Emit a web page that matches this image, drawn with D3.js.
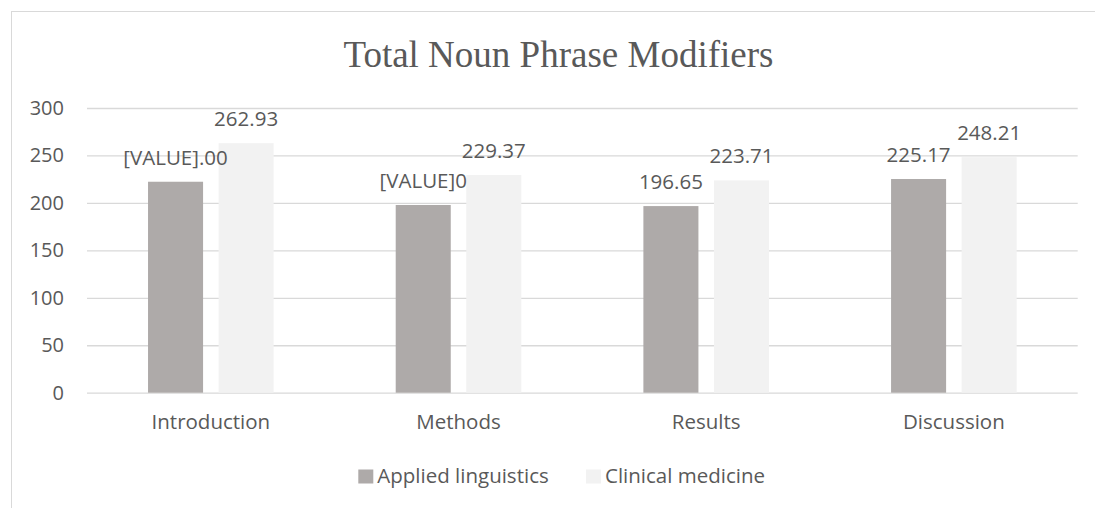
<!DOCTYPE html>
<html>
<head>
<meta charset="utf-8">
<script src="https://cdn.jsdelivr.net/npm/d3@7"></script>
<style>
  body { margin: 0; background: #ffffff; }
  svg { display: block; }
</style>
</head>
<body>
<svg width="1095" height="508"></svg>
<script>
const categories = ['Introduction', 'Methods', 'Results', 'Discussion'];
const seriesNames = ['Applied linguistics', 'Clinical medicine'];
const appliedValues = [222.3, 197.8, 196.65, 225.17];
const clinicalValues = [262.93, 229.37, 223.71, 248.21];
// labels as they appear in the source (two of them are broken field codes)
const appliedLabels = ['[VALUE].00', '[VALUE]0', '196.65', '225.17'];
const clinicalLabels = ['262.93', '229.37', '223.71', '248.21'];
const yTicks = [0, 50, 100, 150, 200, 250, 300];

const colors = ['#aeaaa9', '#f2f2f2'];
const textColor = '#595959';
const gridColor = '#d9d9d9';
const font = "'Open Sans', sans-serif";

const svg = d3.select('svg');

// outer chart border (runs off the right and bottom edge)
svg.append('rect')
    .attr('x', 11.5)
    .attr('y', 11.5)
    .attr('width', 1200)
    .attr('height', 600)
    .attr('fill', 'none')
    .attr('stroke', gridColor);

const plot = { left: 87, right: 1077.7, top: 108, bottom: 392.7 };

const yScale = d3.scaleLinear().domain([0, 300]).range([plot.bottom, plot.top]);
const xScale = d3.scaleBand().domain(categories).range([plot.left, plot.right]);
const xInner = d3.scaleBand().domain(seriesNames)
    .range([0, xScale.bandwidth()])
    .paddingInner(0.22)
    .paddingOuter(0.865);

// title
svg.append('text')
    .attr('x', 558.4)
    .attr('y', 66.7)
    .attr('text-anchor', 'middle')
    .style('font-family', "'Liberation Serif', 'Times New Roman', serif")
    .style('font-size', '37px')
    .attr('fill', textColor)
    .text('Total Noun Phrase Modifiers');

// grid lines + y labels
const yAxis = d3.axisLeft(yScale)
    .tickValues(yTicks)
    .tickSize(-(plot.right - plot.left))
    .tickPadding(23);

svg.append('g')
    .attr('id', 'y-axis')
    .attr('transform', `translate(${plot.left},0)`)
    .call(yAxis);

d3.select('#y-axis .domain').remove();
d3.selectAll('#y-axis line').attr('stroke', gridColor).attr('stroke-width', 1.3);
d3.selectAll('#y-axis text')
    .style('font-family', font)
    .style('font-size', '20px')
    .attr('fill', textColor);

// x labels
const xAxis = d3.axisBottom(xScale).tickSize(0).tickPadding(22);
svg.append('g')
    .attr('id', 'x-axis')
    .attr('transform', `translate(0,${plot.bottom})`)
    .call(xAxis);

d3.select('#x-axis .domain').remove();
d3.selectAll('#x-axis text')
    .style('font-family', font)
    .style('font-size', '20.5px')
    .attr('fill', textColor);

// bars
const series = [
    { name: seriesNames[0], values: appliedValues, labels: appliedLabels, color: colors[0] },
    { name: seriesNames[1], values: clinicalValues, labels: clinicalLabels, color: colors[1] }
];

series.forEach(s => {
    svg.append('g').selectAll('rect')
        .data(categories)
        .enter()
        .append('rect')
        .attr('x', (d) => xScale(d) + xInner(s.name))
        .attr('y', (d, i) => yScale(s.values[i]))
        .attr('width', xInner.bandwidth())
        .attr('height', (d, i) => yScale(0) - yScale(s.values[i]))
        .attr('fill', s.color);
});

// data labels go on top of all bars
series.forEach(s => {
    svg.append('g').selectAll('text')
        .data(categories)
        .enter()
        .append('text')
        .attr('x', (d) => xScale(d) + xInner(s.name) + xInner.bandwidth() / 2)
        .attr('y', (d, i) => yScale(s.values[i]) - 17)
        .attr('text-anchor', 'middle')
        .style('font-family', font)
        .style('font-size', '20.5px')
        .attr('fill', textColor)
        .text((d, i) => s.labels[i]);
});

// legend
const legendX = [358.3, 586];
const legend = svg.append('g').attr('id', 'legend');
series.forEach((s, i) => {
    legend.append('rect')
        .attr('x', legendX[i])
        .attr('y', 469.5)
        .attr('width', 15)
        .attr('height', 14)
        .attr('fill', s.color);
    legend.append('text')
        .attr('x', legendX[i] + 19)
        .attr('y', 483)
        .style('font-family', font)
        .style('font-size', '20.5px')
        .attr('fill', textColor)
        .text(s.name);
});
</script>
</body>
</html>
